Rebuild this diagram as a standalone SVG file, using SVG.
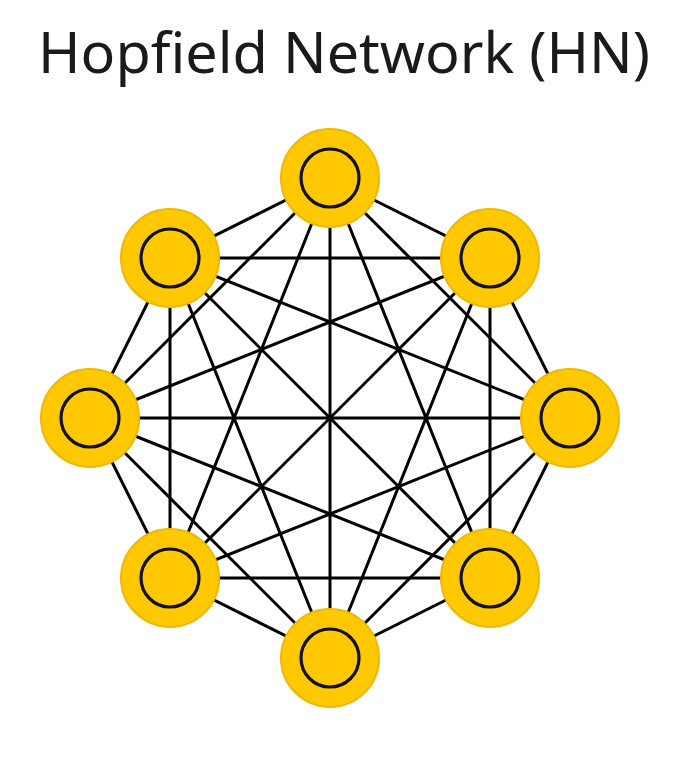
<svg xmlns="http://www.w3.org/2000/svg" width="691" height="762" viewBox="0 0 691 762">
<style>
.t{font-family:"Noto Sans","Open Sans",sans-serif;font-size:56px;fill:#1a1a1a}
.o{fill:#ffc800;stroke:#edb900;stroke-width:2}
.i{fill:none;stroke:#111;stroke-width:3.2}
.e line{stroke:#000;stroke-width:3}
</style>
<rect width="691" height="762" fill="#fff"/>
<text class="t" x="344" y="73" text-anchor="middle" textLength="612" lengthAdjust="spacingAndGlyphs">Hopfield Network (HN)</text>
<g class="e" id="connectors">
<line x1="330" y1="178" x2="490" y2="258"/><line x1="330" y1="178" x2="570" y2="418"/><line x1="330" y1="178" x2="490" y2="578"/><line x1="330" y1="178" x2="330" y2="658"/><line x1="330" y1="178" x2="170" y2="578"/><line x1="330" y1="178" x2="90" y2="418"/><line x1="330" y1="178" x2="170" y2="258"/>
<line x1="490" y1="258" x2="570" y2="418"/><line x1="490" y1="258" x2="490" y2="578"/><line x1="490" y1="258" x2="330" y2="658"/><line x1="490" y1="258" x2="170" y2="578"/><line x1="490" y1="258" x2="90" y2="418"/><line x1="490" y1="258" x2="170" y2="258"/>
<line x1="570" y1="418" x2="490" y2="578"/><line x1="570" y1="418" x2="330" y2="658"/><line x1="570" y1="418" x2="170" y2="578"/><line x1="570" y1="418" x2="90" y2="418"/><line x1="570" y1="418" x2="170" y2="258"/>
<line x1="490" y1="578" x2="330" y2="658"/><line x1="490" y1="578" x2="170" y2="578"/><line x1="490" y1="578" x2="90" y2="418"/><line x1="490" y1="578" x2="170" y2="258"/>
<line x1="330" y1="658" x2="170" y2="578"/><line x1="330" y1="658" x2="90" y2="418"/><line x1="330" y1="658" x2="170" y2="258"/>
<line x1="170" y1="578" x2="90" y2="418"/><line x1="170" y1="578" x2="170" y2="258"/>
<line x1="90" y1="418" x2="170" y2="258"/>
</g>
<g id="n1"><circle class="o" cx="330" cy="178" r="49"/><circle class="i" cx="330" cy="178" r="29"/></g>
<g id="n2"><circle class="o" cx="490" cy="258" r="49"/><circle class="i" cx="490" cy="258" r="29"/></g>
<g id="n3"><circle class="o" cx="570" cy="418" r="49"/><circle class="i" cx="570" cy="418" r="29"/></g>
<g id="n4"><circle class="o" cx="490" cy="578" r="49"/><circle class="i" cx="490" cy="578" r="29"/></g>
<g id="n5"><circle class="o" cx="330" cy="658" r="49"/><circle class="i" cx="330" cy="658" r="29"/></g>
<g id="n6"><circle class="o" cx="170" cy="578" r="49"/><circle class="i" cx="170" cy="578" r="29"/></g>
<g id="n7"><circle class="o" cx="90" cy="418" r="49"/><circle class="i" cx="90" cy="418" r="29"/></g>
<g id="n8"><circle class="o" cx="170" cy="258" r="49"/><circle class="i" cx="170" cy="258" r="29"/></g>
</svg>
